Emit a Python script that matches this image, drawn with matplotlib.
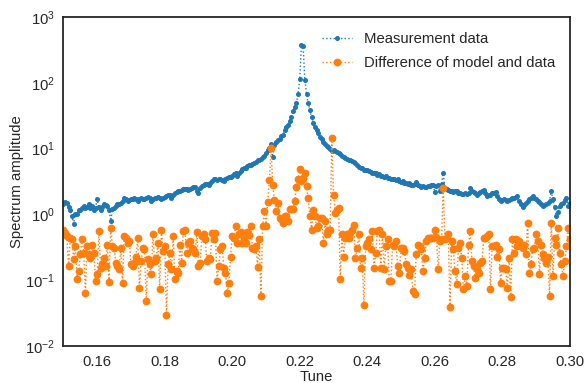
import matplotlib
matplotlib.use("Agg")
import matplotlib.pyplot as plt
import numpy as np
import seaborn as sns

# ── data ──────────────────────────────────────────────────
tune_start, tune_stop, n_points = 0.15, 0.30, 301
tune = np.linspace(tune_start, tune_stop, n_points)

measurement = [
    1.42, 1.55, 1.5, 1.3, 1.15, 0.94, 0.72, 1.0, 1.03, 1.19,
    1.15, 1.26, 1.34, 1.26, 1.30, 1.42, 1.26, 1.34, 1.19, 1.26,
    1.69, 1.28, 1.15, 1.3, 1.42, 1.40, 1.34, 1.19, 0.8, 1.2,
    1.26, 1.35, 1.42, 1.45, 1.50, 1.6, 1.79, 1.7, 1.59, 1.65,
    1.69, 1.72, 1.75, 1.7, 1.63, 1.72, 1.79, 1.73, 1.69, 1.75,
    1.83, 1.75, 1.63, 1.7, 1.75, 1.8, 1.83, 1.75, 1.69, 1.75,
    1.85, 1.9, 2.0, 1.95, 1.79, 1.95, 2.13, 2.2, 2.26, 2.3,
    2.34, 2.4, 2.45, 2.4, 2.34, 2.45, 2.54, 2.58, 2.62, 2.3,
    2.13, 2.5, 2.68, 2.8, 2.95, 2.9, 2.85, 3.0, 3.2, 3.4,
    3.4, 3.3, 3.4, 3.5, 3.3, 3.2, 3.5, 3.6, 3.7, 3.75,
    3.9, 4.1, 4.3, 3.9, 4.3, 4.5, 4.9, 5.1, 5.0, 5.4,
    5.6, 5.7, 5.9, 6.1, 6.3, 6.6, 6.8, 7.0, 7.4, 7.8,
    8.6, 9.4, 10.2, 11.9, 7.5, 11.5, 12.5, 13.4, 14.0, 15.4,
    16.3, 19.0, 21, 23, 26, 30, 37, 43, 49, 68,
    114, 377, 355, 111, 68, 49, 38, 30, 24.5, 21,
    19.4, 17.3, 15, 14, 12.5, 11.9, 11.1, 10.6, 10, 9.1,
    9.5, 9.1, 8.8, 8.6, 8.2, 7.8, 7.5, 7.2, 7.0, 6.8,
    6.7, 6.5, 6.2, 6.0, 5.6, 5.3, 5.1, 5.0, 4.8, 4.7,
    4.8, 4.5, 4.4, 4.3, 4.2, 4.3, 4.0, 4.1, 3.9, 3.8,
    3.7, 3.8, 3.6, 3.6, 3.5, 3.5, 3.4, 3.3, 3.4, 3.2,
    3.1, 3.2, 3.0, 3.0, 2.9, 3.0, 2.85, 2.8, 2.9, 3.1,
    2.8, 2.7, 2.6, 2.7, 2.65, 2.6, 2.7, 2.75, 2.8, 2.85,
    2.2, 2.7, 2.8, 2.25, 2.9, 4.2, 2.5, 2.4, 2.35, 2.26,
    2.3, 2.2, 2.25, 2.26, 2.15, 2.1, 2.05, 2.06, 2.1, 2.05,
    2.13, 2.54, 2.3, 2.18, 2.1, 2.01, 2.1, 2.2, 2.3, 2.34,
    2.1, 1.90, 1.95, 2.01, 2.1, 2.15, 2.18, 1.9, 1.7, 1.59,
    1.65, 1.73, 1.65, 1.59, 1.65, 1.69, 1.75, 1.79, 1.85, 1.90,
    1.6, 1.42, 1.31, 1.4, 1.5, 1.6, 1.69, 1.8, 1.9, 1.8,
    1.69, 1.6, 1.54, 1.45, 1.34, 1.38, 1.42, 1.5, 1.59, 2.26,
    1.69, 1.3, 0.94, 1.1, 1.34, 1.42, 1.50, 1.65, 1.79, 1.34,
    1.5,
]

difference = [
    0.59, 0.53, 0.47, 0.165, 0.44, 0.42, 0.21, 0.33, 0.104, 0.138,
    0.25, 0.42, 0.26, 0.065, 0.33, 0.25, 0.22, 0.35, 0.26, 0.098,
    0.123, 0.56, 0.155, 0.175, 0.22, 0.165, 0.35, 0.095, 0.63, 0.33,
    0.31, 0.185, 0.165, 0.147, 0.31, 0.092, 0.47, 0.44, 0.37, 0.39,
    0.175, 0.165, 0.185, 0.23, 0.44, 0.077, 0.196, 0.31, 0.295, 0.049,
    0.21, 0.175, 0.123, 0.50, 0.196, 0.22, 0.37, 0.073, 0.59, 0.28,
    0.33, 0.03, 0.175, 0.26, 0.147, 0.47, 0.104, 0.138, 0.13, 0.35,
    0.185, 0.56, 0.59, 0.26, 0.37, 0.39, 0.31, 0.295, 0.26, 0.54,
    0.165, 0.185, 0.47, 0.50, 0.42, 0.196, 0.22, 0.21, 0.53, 0.42,
    0.53, 0.098, 0.165, 0.295, 0.33, 0.155, 0.13, 0.065, 0.092, 0.23,
    0.47, 0.44, 0.67, 0.37, 0.50, 0.54, 0.37, 0.44, 0.37, 0.54,
    0.48, 0.67, 0.31, 0.295, 0.33, 0.16, 0.43, 0.058, 0.67, 1.12,
    0.67, 1.54, 3.3, 10.2, 2.85, 1.65, 1.12, 1.50, 0.89, 0.86,
    0.73, 0.94, 0.94, 0.79, 1.23, 1.23, 1.23, 1.6, 2.62, 3.4,
    4.9, 3.2, 3.6, 4.2, 2.68, 1.79, 0.94, 0.59, 1.19, 0.94,
    0.63, 0.67, 0.89, 0.89, 0.37, 0.79, 0.50, 0.59, 0.59, 14.5,
    2.01, 1.06, 1.19, 1.26, 0.104, 0.50, 0.23, 0.44, 0.50, 0.44,
    0.53, 0.59, 0.70, 0.22, 0.31, 0.50, 0.155, 0.22, 0.043, 0.33,
    0.37, 0.42, 0.295, 0.56, 0.155, 0.26, 0.56, 0.59, 0.155, 0.50,
    0.147, 0.33, 0.42, 0.098, 0.098, 0.35, 0.33, 0.39, 0.165, 0.13,
    0.31, 0.31, 0.28, 0.175, 0.155, 0.119, 0.147, 0.069, 0.061, 0.25,
    0.35, 0.33, 0.295, 0.138, 0.22, 0.39, 0.44, 0.44, 0.44, 0.44,
    0.59, 0.46, 0.147, 0.39, 0.42, 2.54, 0.42, 0.44, 0.50, 0.039,
    0.39, 0.295, 0.138, 0.087, 0.31, 0.37, 0.22, 0.073, 0.116, 0.082,
    0.35, 0.56, 0.196, 0.165, 0.11, 0.147, 0.13, 0.185, 0.196, 0.44,
    0.44, 0.47, 0.50, 0.073, 0.33, 0.33, 0.35, 0.23, 0.295, 0.092,
    0.155, 0.155, 0.147, 0.077, 0.22, 0.055, 0.42, 0.26, 0.42, 0.33,
    0.39, 0.33, 0.31, 0.35, 0.25, 0.75, 0.13, 0.175, 0.295, 0.31,
    0.50, 0.39, 0.126, 0.35, 0.25, 0.22, 0.185, 0.23, 0.058, 0.75,
    0.116, 0.44, 0.35, 0.63, 0.26, 0.175, 0.116, 0.196, 0.33, 0.63,
    0.42,
]

# ── style ─────────────────────────────────────────────────
sns.set_style("white")
plt.rcParams["font.family"] = ["Liberation Sans", "DejaVu Sans"]
plt.rcParams["font.size"] = 10.7

fig, ax = plt.subplots(figsize=(5.85, 3.83), dpi=100)
fig.subplots_adjust(left=0.1085, right=0.974, top=0.956, bottom=0.096)

ax.semilogy(tune, measurement, ":", marker="o", markersize=2.6, linewidth=1.0,
            color="#1f77b4", label="Measurement data")
ax.semilogy(tune, difference, ":", marker="o", markersize=4.6, linewidth=1.0,
            color="#ff7f0e", label="Difference of model and data")

ax.set_xlim(0.15, 0.30)
ax.set_ylim(1e-2, 1e3)
ax.set_xticks([0.16, 0.18, 0.20, 0.22, 0.24, 0.26, 0.28, 0.30])
ax.set_xticklabels(["0.16", "0.18", "0.20", "0.22", "0.24", "0.26", "0.28", "0.30"])
ax.tick_params(labelsize=10.7, pad=2.5)
ax.set_xlabel("Tune", fontsize=10.7, labelpad=1)
ax.set_ylabel("Spectrum amplitude", fontsize=10.7, labelpad=1)

for spine in ax.spines.values():
    spine.set_linewidth(1.3)
    spine.set_color("#262626")

ax.legend(loc="upper right", fontsize=10.7, frameon=False, numpoints=1,
          labelspacing=0.7, borderaxespad=0.6)

fig.savefig("out.png", dpi=100, facecolor="white")
